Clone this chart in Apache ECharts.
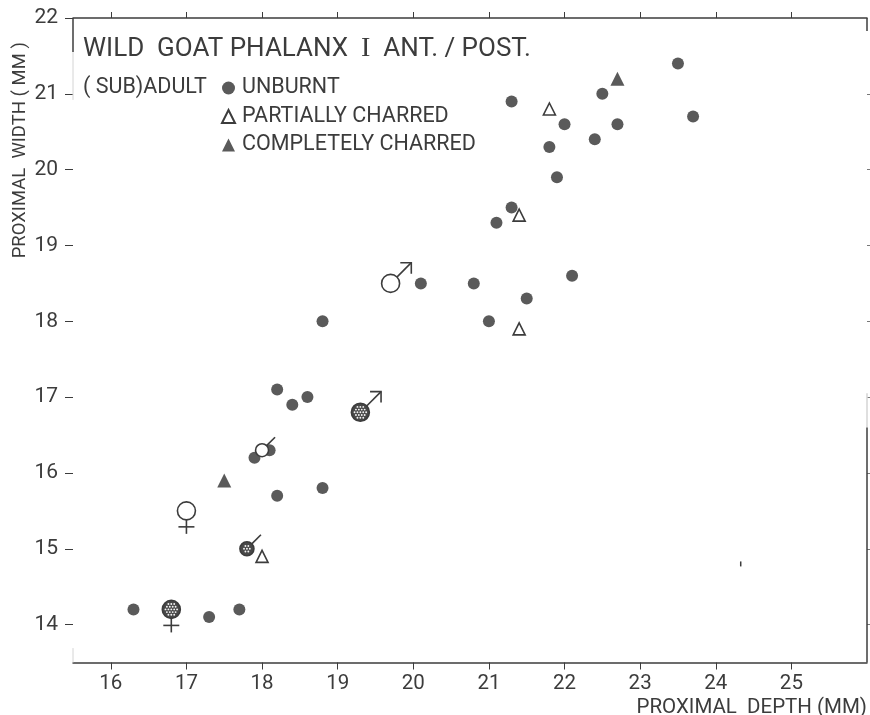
<!DOCTYPE html>
<html><head><meta charset="utf-8">
<style>html,body{margin:0;padding:0;background:#fff}#c{width:870px;height:715px}</style>
<script src="https://cdn.jsdelivr.net/npm/echarts@6/dist/echarts.min.js"></script>
</head><body><div id="c"></div>
<script>
const xTicks = [16,17,18,19,20,21,22,23,24,25];
const yTicks = [14,15,16,17,18,19,20,21,22];
const unburnt = [[16.3,14.2],[17.3,14.1],[17.7,14.2],[18.2,15.7],[18.8,15.8],[17.9,16.2],[18.1,16.3],[18.2,17.1],[18.4,16.9],[18.6,17.0],[18.8,18.0],[20.1,18.5],[20.8,18.5],[21.0,18.0],[21.5,18.3],[22.1,18.6],[21.1,19.3],[21.3,19.5],[21.9,19.9],[21.8,20.3],[22.0,20.6],[21.3,20.9],[22.4,20.4],[22.7,20.6],[22.5,21.0],[23.5,21.4],[23.7,20.7]];
const partial = [[21.8,20.8],[21.4,19.4],[21.4,17.9],[18.0,14.9]];
const complete = [[22.7,21.2],[17.5,15.9]];
const maleOpen = [[19.7,18.5]];
const maleDotted = [[19.3,16.8]];
const femaleOpen = [[17.0,15.5]];
const femaleDotted = [[16.8,14.2]];
const smallOpen = [[18.0,16.3]];
const smallDotted = [[17.8,15.0]];
const strayMark = [[24.33,14.8]];
const leftDark = [[15.5,22],[15.5,21.55]];
const leftPale = [[15.5,21.55],[15.5,20.92]];
const leftFoot = [[15.5,13.69],[15.5,13.5]];
const rightTop = [[26,22],[26,21.83]];
const rightPale = [[26,17.05],[26,16.6]];
const rightDark = [[26,16.6],[26,13.5]];
const titleText = 'WILD  GOAT PHALANX  {i|I}  ANT. / POST.';
const subText = '( SUB)ADULT';
const xName = 'PROXIMAL  DEPTH (MM)';
const yName = 'PROXIMAL  WIDTH ( MM )';

const INK = '#3c3c3c', DOT = '#5a5a5a', PALE='#d4d4d4';
const FONT = '"Roboto","Liberation Sans",sans-serif';
const chart = echarts.init(document.getElementById('c'), null, {renderer:'canvas'});

function sexMark(kind, dotted, r){
  return function(params, api){
    const p = api.coord([api.value(0), api.value(1)]);
    const st = {stroke:INK, lineWidth:1.6, fill:'none'};
    const kids = [{type:'circle', shape:{cx:p[0],cy:p[1],r:r}, style:{stroke:INK,lineWidth:1.6,fill:dotted?'#484848':'#fff'}}];
    if(dotted){
      for(let a=-2;a<=2;a++) for(let b=-2;b<=2;b++){
        const dx=a*2.9+(b%2?1.4:0), dy=b*2.7;
        if(dx*dx+dy*dy<(r-2)*(r-2)) kids.push({type:'circle',shape:{cx:p[0]+dx,cy:p[1]+dy,r:0.95},style:{fill:'#f2f2f2'}});
      }
    }
    if(kind==='male'){
      const s=r*0.7, e=r*2.3;
      kids.push({type:'line',shape:{x1:p[0]+s,y1:p[1]-s,x2:p[0]+e,y2:p[1]-e},style:st});
      kids.push({type:'polyline',shape:{points:[[p[0]+e-11,p[1]-e],[p[0]+e,p[1]-e],[p[0]+e,p[1]-e+11]]},style:st});
    } else if(kind==='female'){
      kids.push({type:'line',shape:{x1:p[0],y1:p[1]+r,x2:p[0],y2:p[1]+r+14},style:st});
      kids.push({type:'line',shape:{x1:p[0]-8,y1:p[1]+r+7,x2:p[0]+8,y2:p[1]+r+7},style:st});
    } else {
      const s=r*0.7, e=r*2;
      kids.push({type:'line',shape:{x1:p[0]+s,y1:p[1]-s,x2:p[0]+e,y2:p[1]-e},style:st});
    }
    return {type:'group',children:kids};
  };
}
const custom = (data,kind,dotted,r)=>({type:'custom',data,renderItem:sexMark(kind,dotted,r),encode:{x:0,y:1},z:5,silent:true});
const edge = (data,color,width)=>({type:'line',data,showSymbol:false,symbol:'none',clip:false,silent:true,z:1,lineStyle:{color,width}});

chart.setOption({
  animation:false,
  backgroundColor:'#fff',
  textStyle:{fontFamily:FONT,color:INK},
  grid:{left:73,right:3,top:18,bottom:52.5,containLabel:false,outerBoundsMode:'none'},
  title:{text:titleText,left:83,top:35,padding:0,textStyle:{fontFamily:FONT,fontSize:26,fontWeight:'normal',color:INK,
    rich:{i:{fontFamily:'"Liberation Serif",serif',fontSize:28,color:INK}}}},
  legend:{orient:'vertical',left:216,top:72,itemGap:6.5,itemWidth:13,itemHeight:13,
    data:['UNBURNT','PARTIALLY CHARRED','COMPLETELY CHARRED'],
    textStyle:{fontFamily:FONT,fontSize:21.5,color:INK,padding:[0,0,0,2]}},
  graphic:[{type:'text',left:83,top:77,style:{text:subText,font:'21.5px '+FONT,fill:INK}}],
  xAxis:[{type:'value',min:15.5,max:26,position:'bottom',
    name:xName,nameLocation:'end',nameGap:0,nameMoveOverlap:false,
    nameTextStyle:{fontFamily:FONT,fontSize:20.5,color:INK,align:'right',verticalAlign:'top',padding:[35,0,0,0]},
    axisLine:{lineStyle:{color:INK,width:1.5}},
    axisTick:{length:7,lineStyle:{color:INK,width:1},customValues:xTicks},
    axisLabel:{fontSize:20.5,color:INK,margin:11,customValues:xTicks,formatter:v=>String(v)},
    splitLine:{show:false}},
   {type:'value',min:15.5,max:26,position:'top',
    axisLine:{lineStyle:{color:INK,width:1.5}},
    axisTick:{length:6,lineStyle:{color:INK,width:1},customValues:xTicks},
    axisLabel:{show:false},splitLine:{show:false}}],
  yAxis:[{type:'value',min:13.5,max:22,position:'left',
    name:yName,nameLocation:'middle',nameGap:43,nameRotate:90,nameMoveOverlap:false,
    nameTextStyle:{fontFamily:FONT,fontSize:18.5,color:INK,padding:[0,0,0,380]},
    axisLine:{show:false},
    axisTick:{length:8,lineStyle:{color:INK,width:1},customValues:yTicks},
    axisLabel:{fontSize:21,color:INK,margin:15,customValues:yTicks,formatter:v=>String(v)},
    splitLine:{show:false}},
   {type:'value',min:13.5,max:22,position:'right',
    axisLine:{show:false},
    axisTick:{length:3,lineStyle:{color:'#777',width:1},customValues:yTicks.slice(0,-1)},
    axisLabel:{show:false},splitLine:{show:false}}],
  series:[
    edge(leftDark,INK,1.5),edge(leftPale,PALE,1),edge(leftFoot,PALE,1),
    edge(rightTop,INK,1.5),edge(rightPale,PALE,1.5),edge(rightDark,INK,1.5),
    {name:'UNBURNT',type:'scatter',data:unburnt,symbol:'circle',symbolSize:12,itemStyle:{color:DOT,opacity:1}},
    {name:'PARTIALLY CHARRED',type:'scatter',data:partial,symbol:'triangle',symbolSize:12,itemStyle:{color:'#fff',borderColor:INK,borderWidth:1.6,opacity:1}},
    {name:'COMPLETELY CHARRED',type:'scatter',data:complete,symbol:'triangle',symbolSize:14,itemStyle:{color:DOT,opacity:1}},
    {type:'scatter',data:strayMark,symbol:'rect',symbolSize:[1.5,5],silent:true,itemStyle:{color:INK,opacity:1}},
    custom(maleOpen,'male',false,9),
    custom(maleDotted,'male',true,9),
    custom(femaleOpen,'female',false,9),
    custom(femaleDotted,'female',true,9),
    custom(smallOpen,'small',false,6.5),
    custom(smallDotted,'small',true,7)
  ]
});
</script></body></html>
